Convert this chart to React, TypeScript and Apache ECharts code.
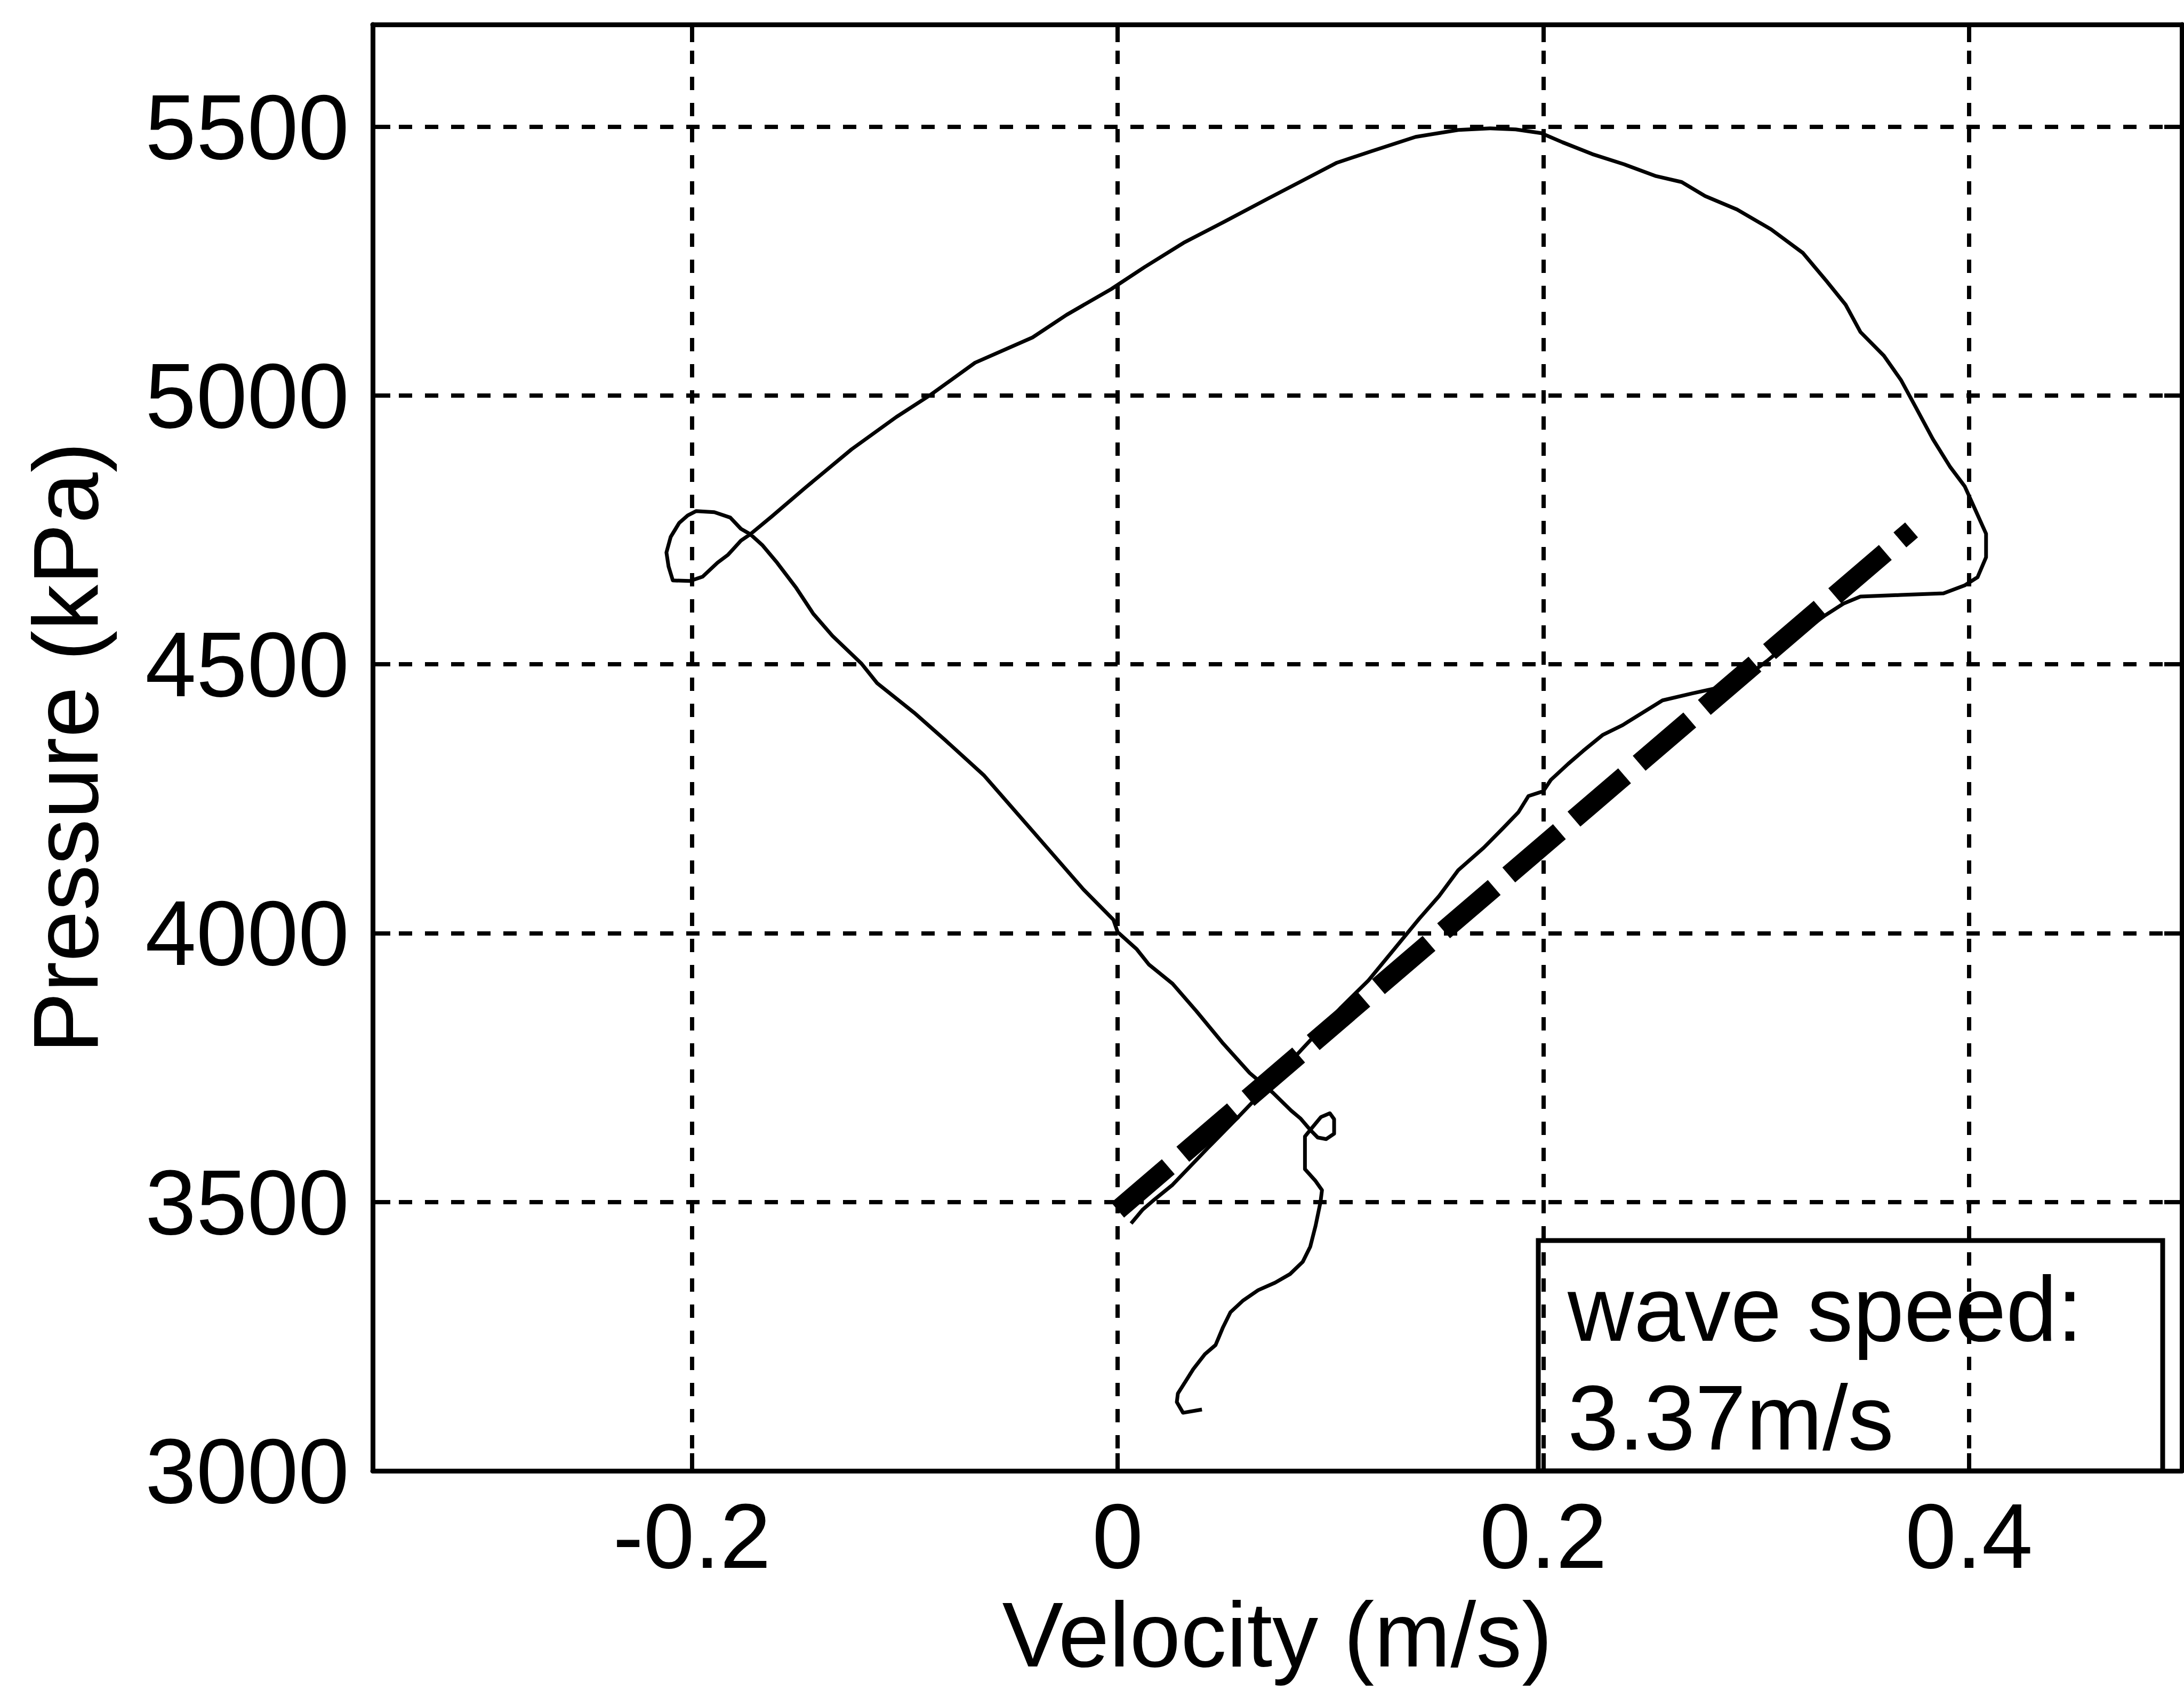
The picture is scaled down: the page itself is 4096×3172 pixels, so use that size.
import React, { useEffect, useRef } from "react";
import * as echarts from "echarts";

// Axis ticks
const xTicks = [-0.2, 0, 0.2, 0.4];
const yTicks = [3000, 3500, 4000, 4500, 5000, 5500];

// Pressure-velocity loop (m/s, kPa), in drawing order
const loopVelocity = [
  0.0396, 0.0307, 0.0278, 0.0283, 0.032, 0.0355, 0.041, 0.046, 0.0495, 0.053,
  0.059, 0.066, 0.074, 0.081, 0.087, 0.0905, 0.093, 0.0953, 0.096, 0.093,
  0.088, 0.088, 0.0905, 0.0955, 0.0997, 0.1017, 0.1017, 0.098, 0.094, 0.0905,
  0.086, 0.0815, 0.073, 0.062, 0.0495, 0.037, 0.0258, 0.0146, 0.009, 0,
  -0.002, -0.016, -0.04, -0.0627, -0.081, -0.0956, -0.113, -0.1205, -0.134, -0.143,
  -0.151, -0.16, -0.167, -0.1726, -0.177, -0.182, -0.1895, -0.198, -0.202, -0.206,
  -0.21, -0.212, -0.211, -0.209, -0.201, -0.195, -0.188, -0.183, -0.177, -0.1726,
  -0.1625, -0.1466, -0.125, -0.104, -0.088, -0.067, -0.04, -0.024, -0.003, 0.0127,
  0.031, 0.05, 0.071, 0.087, 0.103, 0.119, 0.14, 0.16, 0.175, 0.187,
  0.199, 0.209, 0.223, 0.238, 0.253, 0.265, 0.276, 0.291, 0.307, 0.322,
  0.333, 0.342, 0.349, 0.36, 0.368, 0.375, 0.383, 0.391, 0.398, 0.403,
  0.408, 0.408, 0.404, 0.398, 0.388, 0.368, 0.349, 0.341, 0.332, 0.323,
  0.313, 0.305, 0.297, 0.284, 0.27, 0.256, 0.247, 0.2373, 0.228, 0.2187,
  0.2117, 0.2035, 0.2, 0.193, 0.1883, 0.181, 0.172, 0.16, 0.151, 0.1417,
  0.133, 0.1178, 0.105, 0.087, 0.0676, 0.0564, 0.0425, 0.0258, 0.0174, 0.0118,
  0.0063,
];
const loopPressure = [
  3114, 3108, 3128, 3144, 3167, 3189, 3217, 3234, 3267, 3295,
  3317, 3336, 3350, 3366, 3389, 3417, 3456, 3500, 3522, 3539,
  3561, 3622, 3634, 3658, 3665, 3654, 3627, 3617, 3620, 3634,
  3655, 3670, 3703, 3740, 3795, 3855, 3906, 3942, 3970, 4002,
  4025, 4081, 4190, 4293, 4359, 4410, 4465, 4502, 4553, 4594,
  4642, 4689, 4722, 4742, 4752, 4773, 4783, 4785, 4777, 4763,
  4737, 4708, 4682, 4656, 4655, 4663, 4689, 4704, 4730, 4742,
  4775, 4829, 4900, 4960, 5001, 5061, 5108, 5150, 5198, 5239,
  5284, 5323, 5367, 5400, 5433, 5454, 5481, 5494, 5497, 5495,
  5488, 5471, 5449, 5430, 5408, 5397, 5371, 5346, 5309, 5265,
  5213, 5169, 5118, 5074, 5029, 4978, 4919, 4868, 4831, 4787,
  4743, 4699, 4662, 4647, 4632, 4629, 4626, 4613, 4590, 4564,
  4532, 4506, 4482, 4458, 4446, 4433, 4411, 4387, 4369, 4339,
  4315, 4285, 4264, 4255, 4225, 4195, 4159, 4117, 4069, 4027,
  3985, 3912, 3862, 3786, 3703, 3657, 3601, 3532, 3505, 3486,
  3460,
];

// Wave-speed fit line
const fitVelocity = [0.0, 0.373];
const fitPressure = [3485, 4750];

const annotationLines = ["wave speed:", "3.37m/s"];

const FONT = "'Liberation Sans', Arial, Helvetica, sans-serif";
const FS = 172;

export default function App() {
  const ref = useRef<HTMLDivElement>(null);

  useEffect(() => {
    document.body.style.margin = "0";
    const chart = echarts.init(ref.current as HTMLDivElement, null, {
      renderer: "svg",
      width: 4096,
      height: 3172,
    });

    const loopData = loopVelocity.map((v, i) => [v, loopPressure[i]]);
    const fitData = fitVelocity.map((v, i) => [v, fitPressure[i]]);

    const axisLineStyle = { color: "#000", width: 9 };
    const tickStyle = { color: "#000", width: 8 };
    const gridLineStyle = { color: "#000", width: 8, type: [25, 24] as any };

    const option: any = {
      animation: false,
      backgroundColor: "#fff",
      textStyle: { fontFamily: FONT, color: "#000" },
      grid: {
        left: 699,
        right: 4,
        top: 46,
        bottom: 413,
        containLabel: false,
        outerBoundsMode: "none",
      },
      xAxis: [
        {
          type: "value",
          min: -0.35,
          max: 0.5,
          position: "bottom",
          name: "Velocity (m/s)",
          nameLocation: "middle",
          nameGap: 227,
          nameTextStyle: { fontSize: FS, color: "#000", fontFamily: FONT, lineHeight: 160 },
          axisLine: { show: true, onZero: false, lineStyle: axisLineStyle },
          axisTick: { show: true, inside: true, length: 33, customValues: xTicks, lineStyle: tickStyle },
          axisLabel: {
            show: true,
            customValues: xTicks,
            fontSize: FS,
            color: "#000",
            fontFamily: FONT,
            margin: 36,
            lineHeight: FS,
            formatter: (v: number) => String(v),
          },
          splitLine: { show: true, lineStyle: gridLineStyle },
        },
        {
          type: "value",
          min: -0.35,
          max: 0.5,
          position: "top",
          axisLine: { show: true, onZero: false, lineStyle: axisLineStyle },
          axisTick: { show: true, inside: true, length: 33, customValues: xTicks, lineStyle: tickStyle },
          axisLabel: { show: false },
          splitLine: { show: false },
        },
      ],
      yAxis: [
        {
          type: "value",
          min: 3000,
          max: 5690,
          position: "left",
          name: "Pressure (kPa)",
          nameLocation: "middle",
          nameRotate: 90,
          nameGap: 490,
          nameTextStyle: { fontSize: FS, color: "#000", fontFamily: FONT, lineHeight: FS },
          axisLine: { show: true, onZero: false, lineStyle: axisLineStyle },
          axisTick: { show: true, inside: true, length: 33, customValues: yTicks, lineStyle: tickStyle },
          axisLabel: {
            show: true,
            customValues: yTicks,
            fontSize: FS,
            color: "#000",
            fontFamily: FONT,
            margin: 44,
            lineHeight: FS,
            formatter: (v: number) => String(v),
          },
          splitLine: { show: true, lineStyle: gridLineStyle },
        },
        {
          type: "value",
          min: 3000,
          max: 5690,
          position: "right",
          axisLine: { show: true, onZero: false, lineStyle: axisLineStyle },
          axisTick: { show: true, inside: true, length: 33, customValues: yTicks, lineStyle: tickStyle },
          axisLabel: { show: false },
          splitLine: { show: false },
        },
      ],
      series: [
        {
          type: "line",
          name: "loop",
          xAxisIndex: 0,
          yAxisIndex: 0,
          data: loopData,
          symbol: "none",
          showSymbol: false,
          smooth: false,
          silent: true,
          lineStyle: { color: "#000", width: 7, join: "round" },
          z: 3,
        },
        {
          type: "line",
          name: "fit",
          xAxisIndex: 0,
          yAxisIndex: 0,
          data: fitData,
          symbol: "none",
          showSymbol: false,
          silent: true,
          lineStyle: { color: "#000", width: 37, type: [125, 36], cap: "butt" },
          z: 4,
        },
      ],
      graphic: [
        {
          type: "rect",
          z: 10,
          shape: { x: 2885, y: 2327, width: 1171, height: 432 },
          style: { fill: "none", stroke: "#000", lineWidth: 9 },
        },
        {
          type: "text",
          z: 11,
          x: 2940,
          y: 2455,
          style: {
            text: annotationLines[0],
            fontSize: FS,
            fontFamily: FONT,
            fill: "#000",
            align: "left",
            verticalAlign: "middle",
          },
        },
        {
          type: "text",
          z: 11,
          x: 2940,
          y: 2659,
          style: {
            text: annotationLines[1],
            fontSize: FS,
            fontFamily: FONT,
            fill: "#000",
            align: "left",
            verticalAlign: "middle",
          },
        },
      ],
    };

    chart.setOption(option);
    return () => {
      chart.dispose();
    };
  }, []);

  return (
    <div
      ref={ref}
      style={{ position: "absolute", left: 0, top: 0, width: 4096, height: 3172, background: "#fff" }}
    />
  );
}
